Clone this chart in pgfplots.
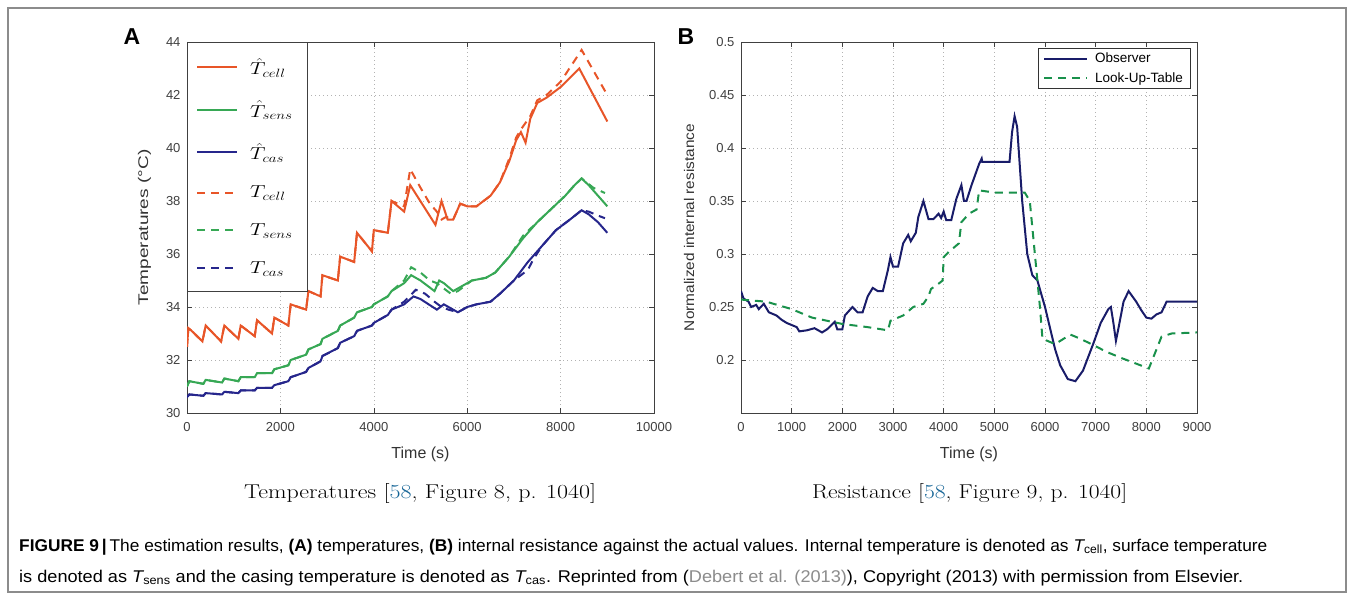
\documentclass[border=0pt]{standalone}
\usepackage{pgfplots}
\pgfplotsset{compat=1.18}
\usepackage{fontspec}
\usepackage{graphicx}
\newfontfamily\arial{Liberation Sans}
\definecolor{corange}{RGB}{232,85,40}
\definecolor{cgreen}{RGB}{55,168,85}
\definecolor{cblue}{RGB}{38,38,140}
\definecolor{cnavy}{RGB}{25,28,105}
\definecolor{clut}{RGB}{25,145,75}
\definecolor{clink}{RGB}{20,100,150}
\newcommand{\legtxt}[1]{\makebox[46pt][l]{\scalebox{1.25}[1]{#1}}}
\pgfplotsset{
  mystyle/.style={
    scale only axis, anchor=south west,
    axis line style={black!75, line width=0.8pt},
    tick align=inside, major tick length=5pt,
    tick style={black!75, line width=0.6pt},
    grid=major,
    major grid style={black!30, dash pattern=on 1pt off 3pt, line width=0.6pt},
    tick label style={font=\arial\fontsize{13}{13}\selectfont, text=black!75},
    xticklabel shift=6pt, yticklabel shift=3pt,
    xlabel shift=8pt, ylabel shift=8pt,
    /pgf/number format/assume math mode=true,
    /pgf/number format/1000 sep={},
    scaled ticks=false,
    xlabel style={font=\arial\fontsize{16}{16}\selectfont, text=black!80},
    ylabel style={font=\arial\fontsize{14}{14}\selectfont, text=black!80},
    legend cell align=left,
  }
}
\begin{document}
\begin{tikzpicture}[x=1pt,y=1pt]
\path[use as bounding box] (0,0) rectangle (1354,600);
\fill[white] (0,0) rectangle (1354,600);
\draw[black!45, line width=1.2pt] (8,8) rectangle (1346,592);

\node[font=\arial\bfseries\fontsize{23}{23}\selectfont] at (132,563) {A};
\node[font=\arial\bfseries\fontsize{23}{23}\selectfont] at (686,563) {B};

\begin{axis}[mystyle, at={(187pt,187pt)}, width=467pt, height=371pt,
  xmin=0, xmax=10000, ymin=30, ymax=44,
  xtick={0,2000,4000,6000,8000,10000}, ytick={30,32,34,36,38,40,42,44},
  xlabel={Time (s)}, ylabel={\resizebox{156pt}{\height}{Temperatures (°C)}},
  legend image code/.code={\draw[#1, line width=2pt] (0pt,0pt) -- (40pt,0pt); \path (50pt,0pt);},
  legend style={at={(0,1)}, anchor=north west, draw=black!75, fill=white,
    font=\fontsize{18}{18}\selectfont, row sep=20.6pt, inner xsep=9pt, inner ysep=14.3pt}]
\addplot[corange, line width=2pt] coordinates {
(0,32.5)(30,33.2)(100,33.1)(330,32.7)(400,33.3)(730,32.7)(800,33.3)(1100,32.8)(1150,33.3)
(1450,32.9)(1500,33.5)(1820,33.0)(1870,33.6)(2170,33.3)(2220,34.1)(2550,33.9)(2600,34.6)
(2860,34.4)(2900,35.2)(3230,35.0)(3280,35.9)(3580,35.7)(3640,36.8)(3960,36.1)(4000,36.9)
(4300,36.8)(4380,38.0)(4650,37.6)(4780,38.6)(5320,37.1)(5450,38.0)(5580,37.3)(5700,37.3)
(5850,37.9)(6000,37.8)(6200,37.8)(6500,38.2)(6700,38.7)(6900,39.5)(7050,40.3)(7150,40.6)
(7250,40.2)(7350,41.1)(7500,41.7)(7700,41.9)(8000,42.3)(8400,43.0)(9000,41.0)};
\addlegendentry{\legtxt{$\hat{T}_{cell}$}}
\addplot[cgreen, line width=2pt] coordinates {
(0,31.0)(50,31.2)(350,31.1)(400,31.25)(750,31.15)(800,31.3)(1100,31.2)(1150,31.35)
(1450,31.35)(1500,31.5)(1820,31.5)(1870,31.65)(2170,31.8)(2220,32.0)(2550,32.2)(2600,32.4)
(2860,32.6)(2900,32.8)(3230,33.1)(3280,33.3)(3580,33.6)(3640,33.8)(3960,34.0)(4000,34.1)
(4300,34.4)(4380,34.6)(4650,34.9)(4800,35.2)(5000,35.0)(5300,34.6)(5400,35.0)(5500,34.9)
(5700,34.6)(5900,34.8)(6100,35.0)(6400,35.1)(6600,35.3)(6900,35.9)(7200,36.6)(7500,37.2)
(7800,37.7)(8100,38.2)(8300,38.6)(8450,38.85)(8600,38.6)(8800,38.2)(9000,37.8)};
\addlegendentry{\legtxt{$\hat{T}_{sens}$}}
\addplot[cblue, line width=2pt] coordinates {
(0,30.6)(50,30.7)(350,30.65)(400,30.75)(750,30.7)(800,30.8)(1100,30.75)(1150,30.85)
(1450,30.85)(1500,30.95)(1820,30.95)(1870,31.05)(2170,31.2)(2220,31.35)(2550,31.55)(2600,31.7)
(2860,31.95)(2900,32.15)(3230,32.45)(3280,32.65)(3580,32.9)(3640,33.1)(3960,33.3)(4000,33.4)
(4300,33.7)(4380,33.9)(4650,34.1)(4850,34.4)(5000,34.3)(5350,33.9)(5500,34.1)(5800,33.8)
(6000,34.0)(6200,34.1)(6500,34.2)(6700,34.5)(7000,35.0)(7300,35.7)(7600,36.3)(7900,36.9)
(8200,37.3)(8450,37.65)(8600,37.5)(8800,37.2)(9000,36.8)};
\addlegendentry{\legtxt{$\hat{T}_{cas}$}}
\addplot[corange, line width=2pt, dash pattern=on 8pt off 6pt] coordinates {
(0,32.5)(30,33.2)(100,33.1)(330,32.7)(400,33.3)(730,32.7)(800,33.3)(1100,32.8)(1150,33.3)
(1450,32.9)(1500,33.5)(1820,33.0)(1870,33.6)(2170,33.3)(2220,34.1)(2550,33.9)(2600,34.6)
(2860,34.4)(2900,35.2)(3230,35.0)(3280,35.9)(3580,35.7)(3640,36.8)(3960,36.1)(4000,36.9)
(4300,36.8)(4380,38.0)(4650,37.8)(4780,39.2)(5000,38.5)(5200,37.9)(5350,37.6)(5450,37.3)
(5550,37.4)(5700,37.3)(5850,37.9)(6000,37.8)(6200,37.8)(6500,38.2)(6700,38.7)(6900,39.6)
(7050,40.4)(7150,40.7)(7350,41.2)(7500,41.8)(7700,42.0)(8000,42.5)(8450,43.7)(9000,42.0)};
\addlegendentry{\legtxt{$T_{cell}$}}
\addplot[cgreen, line width=2pt, dash pattern=on 8pt off 6pt] coordinates {
(0,31.0)(50,31.2)(350,31.1)(400,31.25)(750,31.15)(800,31.3)(1100,31.2)(1150,31.35)
(1450,31.35)(1500,31.5)(1820,31.5)(1870,31.65)(2170,31.8)(2220,32.0)(2550,32.2)(2600,32.4)
(2860,32.6)(2900,32.8)(3230,33.1)(3280,33.3)(3580,33.6)(3640,33.8)(3960,34.0)(4000,34.1)
(4300,34.4)(4380,34.6)(4650,35.0)(4800,35.5)(5000,35.3)(5200,35.0)(5350,34.9)(5500,34.7)
(5650,34.5)(5800,34.6)(6100,35.0)(6400,35.1)(6600,35.3)(6900,35.9)(7200,36.7)(7500,37.2)
(7800,37.7)(8100,38.2)(8300,38.6)(8450,38.85)(8700,38.5)(8950,38.3)};
\addlegendentry{\legtxt{$T_{sens}$}}
\addplot[cblue, line width=2pt, dash pattern=on 8pt off 6pt] coordinates {
(0,30.6)(50,30.7)(350,30.65)(400,30.75)(750,30.7)(800,30.8)(1100,30.75)(1150,30.85)
(1450,30.85)(1500,30.95)(1820,30.95)(1870,31.05)(2170,31.2)(2220,31.35)(2550,31.55)(2600,31.7)
(2860,31.95)(2900,32.15)(3230,32.45)(3280,32.65)(3580,32.9)(3640,33.1)(3960,33.3)(4000,33.4)
(4300,33.7)(4380,33.9)(4650,34.2)(4900,34.65)(5100,34.5)(5300,34.2)(5450,34.0)(5600,33.9)
(5800,33.8)(6000,34.0)(6200,34.1)(6500,34.2)(6700,34.5)(7000,35.0)(7300,35.4)(7400,35.75)
(7600,36.3)(7900,36.9)(8200,37.3)(8450,37.65)(8600,37.6)(8800,37.45)(8950,37.35)};
\addlegendentry{\legtxt{$T_{cas}$}}
\end{axis}

\begin{axis}[mystyle, at={(741pt,187pt)}, width=456pt, height=371pt,
  xmin=0, xmax=9000, ymin=0.15, ymax=0.5,
  xtick={0,1000,2000,3000,4000,5000,6000,7000,8000,9000},
  ytick={0.2,0.25,0.3,0.35,0.4,0.45,0.5},
  xlabel={Time (s)}, ylabel={\resizebox{207pt}{\height}{Normalized internal resistance}},
  legend image code/.code={\draw[#1, line width=2pt] (0pt,0pt) -- (43pt,0pt); \path (48pt,0pt);},
  legend style={at={(0.985,0.984)}, anchor=north east, draw=black!80, fill=white,
    font=\arial\fontsize{13.5}{13.5}\selectfont, row sep=4pt, inner xsep=5pt, inner ysep=3pt}]
\addplot[cnavy, line width=2pt] coordinates {
(0,0.265)(50,0.258)(150,0.255)(200,0.250)(300,0.252)(350,0.248)(450,0.253)(550,0.245)
(700,0.242)(800,0.238)(900,0.235)(1000,0.233)(1100,0.231)(1150,0.227)(1300,0.228)(1450,0.230)
(1600,0.226)(1700,0.229)(1850,0.236)(1900,0.229)(2000,0.229)(2050,0.242)(2200,0.250)(2300,0.245)
(2400,0.245)(2500,0.260)(2600,0.268)(2700,0.265)(2800,0.265)(2900,0.285)(2950,0.297)(3000,0.288)
(3100,0.288)(3200,0.310)(3300,0.318)(3350,0.312)(3450,0.320)(3500,0.335)(3600,0.350)(3700,0.333)
(3800,0.333)(3900,0.338)(3950,0.334)(4000,0.340)(4050,0.332)(4150,0.332)(4250,0.352)(4350,0.365)
(4400,0.350)(4450,0.350)(4550,0.365)(4700,0.385)(4750,0.390)(4760,0.387)(5300,0.387)(5350,0.415)
(5400,0.430)(5450,0.420)(5550,0.350)(5650,0.300)(5750,0.280)(5850,0.275)(6000,0.250)(6200,0.210)
(6300,0.195)(6450,0.182)(6600,0.180)(6750,0.190)(6950,0.215)(7100,0.235)(7250,0.248)(7300,0.250)
(7350,0.235)(7400,0.218)(7450,0.230)(7550,0.255)(7650,0.265)(7800,0.255)(7900,0.247)(8000,0.240)
(8100,0.239)(8200,0.243)(8300,0.245)(8400,0.255)(9000,0.255)};
\addlegendentry{Observer}
\addplot[clut, line width=2pt, dash pattern=on 8pt off 6pt] coordinates {
(0,0.257)(500,0.255)(1000,0.248)(1400,0.240)(1800,0.236)(2000,0.234)(2500,0.231)(2900,0.228)
(2950,0.237)(3200,0.242)(3400,0.250)(3600,0.253)(3700,0.260)(3750,0.267)(3900,0.272)(3980,0.275)
(4000,0.297)(4100,0.302)(4300,0.310)(4350,0.330)(4500,0.338)(4650,0.342)(4700,0.360)(5000,0.358)
(5600,0.358)(5700,0.350)(5800,0.300)(5900,0.250)(5950,0.220)(6200,0.215)(6500,0.224)(6700,0.220)
(7000,0.213)(7200,0.208)(7500,0.202)(8050,0.192)(8200,0.210)(8300,0.222)(8500,0.225)(9000,0.226)};
\addlegendentry{Look-Up-Table}
\end{axis}

\node[anchor=base west, inner sep=0, font=\fontsize{20}{20}\selectfont] at (244,102)
  {\resizebox{352pt}{\height}{Temperatures [{\color{clink}58}, Figure 8, p. 1040]}};
\node[anchor=base west, inner sep=0, font=\fontsize{20}{20}\selectfont] at (812,102)
  {\resizebox{315pt}{\height}{Resistance [{\color{clink}58}, Figure 9, p. 1040]}};

\node[anchor=base west, inner sep=0, font=\arial\fontsize{17}{17}\selectfont] at (19,49)
  {\resizebox{1248pt}{\height}{{\bfseries FIGURE 9}\,{\bfseries|}\,The estimation results, {\bfseries (A)} temperatures, {\bfseries (B)} internal resistance against the actual values. Internal temperature is denoted as {\itshape T}\textsubscript{cell}, surface temperature}};
\node[anchor=base west, inner sep=0, font=\arial\fontsize{17}{17}\selectfont] at (19,18)
  {\resizebox{1224pt}{\height}{is denoted as {\itshape T}\textsubscript{sens} and the casing temperature is denoted as {\itshape T}\textsubscript{cas}. Reprinted from ({\color{black!45}Debert et al. (2013)}), Copyright (2013) with permission from Elsevier.}};
\end{tikzpicture}
\end{document}
